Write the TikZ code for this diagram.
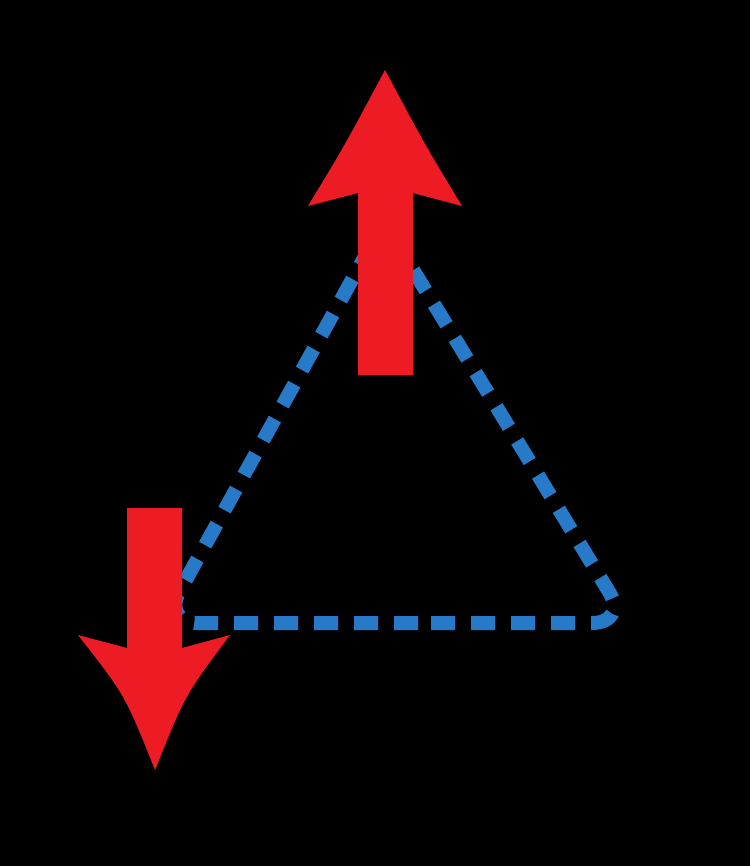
\documentclass[tikz,border=0pt]{standalone}
\usepackage{xcolor}
\usepackage{tikz}
\usetikzlibrary{calc}
\definecolor{arrowred}{RGB}{237,28,36}
\definecolor{pathblue}{RGB}{38,122,200}

\begin{document}
\begin{tikzpicture}[
    x=1pt, y=-1pt,
    loop/.style={draw=pathblue, line width=14pt, dash pattern=on 24pt off 16pt, rounded corners=36pt},
    bigarrow/.style={fill=arrowred, draw=none}
]
    % Background
    \fill[black] (0,0) rectangle (750,866);
    \useasboundingbox (0,0) rectangle (750,866);

    % Corners of the triangle
    \coordinate (top) at (384,222);
    \coordinate (left) at (162,623);
    \coordinate (right) at (628,623);

    % Dotted triangle
    \draw[loop] ($(left)!0.5!(right)$) -- (right) -- (top) -- (left) -- cycle;

    % Up arrow
    \fill[bigarrow] (358,375) -- (358,193) -- (308,206)
        .. controls (345,145) .. (385,70) .. controls (425,145) .. (462,206)
        -- (413,193) -- (413,375) -- cycle;

    % Down arrow
    \fill[bigarrow] (127,508) -- (127,648) -- (78,635)
        .. controls (125,695) .. (155,770) .. controls (185,695) .. (230,635)
        -- (182,648) -- (182,508) -- cycle;
\end{tikzpicture}
\end{document}
